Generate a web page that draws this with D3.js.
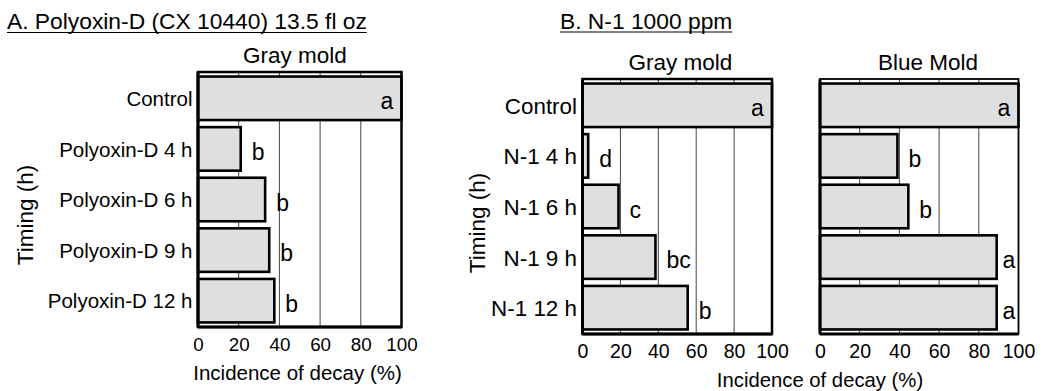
<!DOCTYPE html>
<html>
<head>
<meta charset="utf-8">
<script src="https://cdn.jsdelivr.net/npm/d3@7"></script>
<style>
  body { margin: 0; background: #fff; }
  svg text { font-family: "Liberation Sans", Arial, sans-serif; fill: #000; }
</style>
</head>
<body>
<svg id="chart" width="1042" height="391"></svg>
<script>
// Data
const catsA = ["Control", "Polyoxin-D 4 h", "Polyoxin-D 6 h", "Polyoxin-D 9 h", "Polyoxin-D 12 h"];
const grayMoldA = [100, 21, 33, 35, 37.5];
const lettersGrayA = ["a", "b", "b", "b", "b"];

const catsB = ["Control", "N-1 4 h", "N-1 6 h", "N-1 9 h", "N-1 12 h"];
const grayMoldB = [100, 3, 19, 38.5, 55.5];
const lettersGrayB = ["a", "d", "c", "bc", "b"];
const blueMoldB = [100, 39, 44.5, 89, 89];
const lettersBlueB = ["a", "b", "b", "a", "a"];

const xTicks = [0, 20, 40, 60, 80, 100];

const svg = d3.select("#chart");

svg.append("rect")
    .attr("width", 1042)
    .attr("height", 391)
    .attr("fill", "#fff");

// underlined panel heading
function heading(x, y, label) {
    const t = svg.append("text")
        .attr("x", x)
        .attr("y", y)
        .style("font-size", "22.8px")
        .text(label);
    const w = t.node().getComputedTextLength();
    svg.append("line")
        .attr("x1", x).attr("x2", x + w)
        .attr("y1", y + 3.5).attr("y2", y + 3.5)
        .attr("stroke", "#000")
        .attr("stroke-width", 1.2);
}

function drawPanel(p) {
    const x = d3.scaleLinear().domain([0, 100]).range([p.left, p.right]);
    const y = d3.scaleBand()
        .domain(p.cats)
        .range([p.top, p.bottom])
        .paddingInner(0.14)
        .paddingOuter(0.09);

    const g = svg.append("g");

    // panel title
    g.append("text")
        .attr("x", p.titleX)
        .attr("y", p.top - 9)
        .attr("text-anchor", "middle")
        .style("font-size", "22.5px")
        .text(p.title);

    // gridlines
    g.selectAll(".grid")
        .data(xTicks.slice(1, -1))
        .enter()
        .append("line")
        .attr("x1", d => x(d)).attr("x2", d => x(d))
        .attr("y1", p.top).attr("y2", p.bottom)
        .attr("stroke", "#444")
        .attr("stroke-width", 1);

    // bars
    g.selectAll(".bar")
        .data(p.values)
        .enter()
        .append("rect")
        .attr("x", x(0))
        .attr("y", (d, i) => y(p.cats[i]))
        .attr("width", d => x(d) - x(0))
        .attr("height", y.bandwidth())
        .attr("fill", "#dfdfdf")
        .attr("stroke", "#000")
        .attr("stroke-width", 2.6);

    // significance letters
    g.selectAll(".letter")
        .data(p.values)
        .enter()
        .append("text")
        .attr("x", d => d >= 100 ? x(100) - 21 : Math.min(x(d) + 11, x(100) - 16))
        .attr("y", (d, i) => y(p.cats[i]) + y.bandwidth() / 2 + 11)
        .style("font-size", "23px")
        .text((d, i) => p.letters[i]);

    // frame
    g.append("rect")
        .attr("x", p.left)
        .attr("y", p.top)
        .attr("width", p.right - p.left)
        .attr("height", p.bottom - p.top)
        .attr("fill", "none")
        .attr("stroke", "#000")
        .attr("stroke-width", p.frameWidth);

    g.append("line")
        .attr("x1", p.left).attr("x2", p.left)
        .attr("y1", p.top).attr("y2", p.bottom)
        .attr("stroke", "#000")
        .attr("stroke-width", 3);
    g.append("line")
        .attr("x1", p.left).attr("x2", p.right)
        .attr("y1", p.bottom).attr("y2", p.bottom)
        .attr("stroke", "#000")
        .attr("stroke-width", 3);

    // x axis tick labels
    const xAxis = g.append("g")
        .attr("transform", `translate(0,${p.bottom})`)
        .call(d3.axisBottom(x).tickValues(xTicks).tickSize(0).tickPadding(p.tickPad));
    xAxis.select(".domain").remove();
    xAxis.selectAll("text")
        .style("font-size", p.tickFont + "px")
        .style("font-family", "'Liberation Sans', Arial, sans-serif")
        .attr("fill", "#000");

    // category labels
    if (p.showCats) {
        const yAxis = g.append("g")
            .attr("transform", `translate(${p.left},0)`)
            .call(d3.axisLeft(y).tickSize(0).tickPadding(5.5));
        yAxis.select(".domain").remove();
        yAxis.selectAll("text")
            .style("font-size", p.catFont + "px")
            .style("font-family", "'Liberation Sans', Arial, sans-serif")
            .attr("dy", "0.38em")
            .attr("fill", "#000");
    }
}

heading(7, 29, "A. Polyoxin-D (CX 10440) 13.5 fl oz");
heading(560, 28.5, "B. N-1 1000 ppm");

drawPanel({
    cats: catsA, values: grayMoldA, letters: lettersGrayA,
    title: "Gray mold", titleX: 295,
    left: 198, right: 401.5, top: 72, bottom: 327,
    frameWidth: 2.5, tickFont: 18.8, tickPad: 11, catFont: 20.5, showCats: true
});

drawPanel({
    cats: catsB, values: grayMoldB, letters: lettersGrayB,
    title: "Gray mold", titleX: 680.5,
    left: 582.5, right: 772, top: 79, bottom: 334,
    frameWidth: 2.5, tickFont: 19.5, tickPad: 10.5, catFont: 22.4, showCats: true
});

drawPanel({
    cats: catsB, values: blueMoldB, letters: lettersBlueB,
    title: "Blue Mold", titleX: 928,
    left: 820, right: 1018.5, top: 79, bottom: 334,
    frameWidth: 1.8, tickFont: 19.5, tickPad: 10.5, catFont: 22.4, showCats: false
});

// axis titles
svg.append("text")
    .attr("x", 297.5).attr("y", 380)
    .attr("text-anchor", "middle")
    .style("font-size", "20.5px")
    .text("Incidence of decay (%)");

svg.append("text")
    .attr("x", 820).attr("y", 387)
    .attr("text-anchor", "middle")
    .style("font-size", "20.3px")
    .text("Incidence of decay (%)");

svg.append("text")
    .attr("transform", "translate(33,215) rotate(-90)")
    .attr("text-anchor", "middle")
    .style("font-size", "22.5px")
    .text("Timing (h)");

svg.append("text")
    .attr("transform", "translate(485,223) rotate(-90)")
    .attr("text-anchor", "middle")
    .style("font-size", "22.5px")
    .text("Timing (h)");
</script>
</body>
</html>
